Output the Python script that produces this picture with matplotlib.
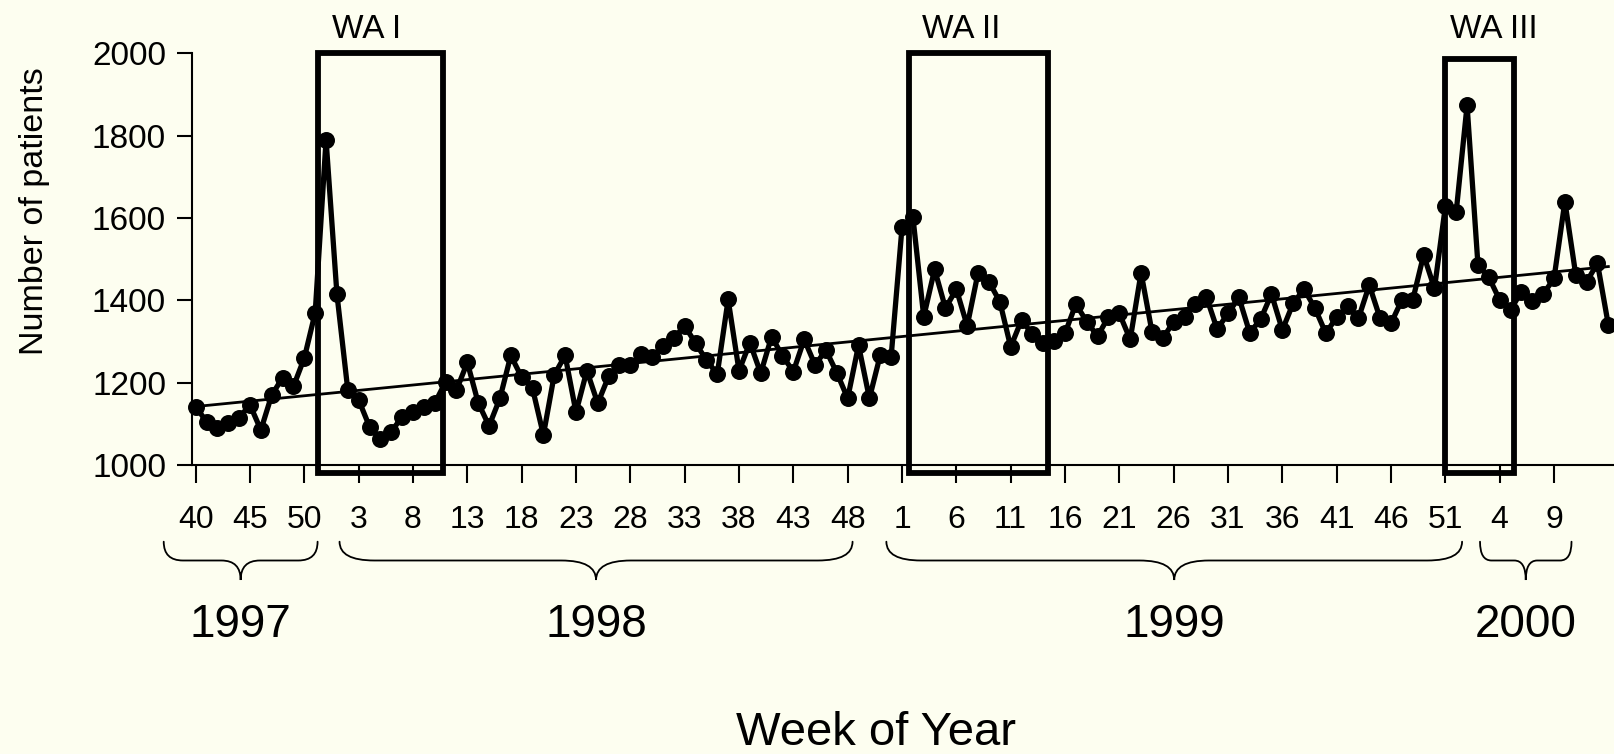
import matplotlib
matplotlib.use("Agg")
import matplotlib.pyplot as plt
from matplotlib.patches import Rectangle, PathPatch
from matplotlib.path import Path
from matplotlib.transforms import blended_transform_factory
import numpy as np

plt.rcParams['font.family'] = ['Liberation Sans', 'DejaVu Sans']

# Weekly patient counts, week 40 of 1997 onwards
patients = [
    1142, 1105, 1089, 1101, 1115, 1146, 1085, 1170, 1212, 1191,
    1260, 1370, 1790, 1415, 1182, 1158, 1093, 1062, 1081, 1117,
    1129, 1142, 1150, 1202, 1182, 1249, 1151, 1095, 1162, 1266,
    1213, 1186, 1073, 1219, 1266, 1128, 1229, 1150, 1215, 1243,
    1243, 1270, 1262, 1290, 1308, 1338, 1296, 1255, 1221, 1402,
    1229, 1297, 1223, 1312, 1265, 1227, 1305, 1243, 1279, 1224,
    1162, 1291, 1162, 1267, 1263, 1577, 1603, 1360, 1475, 1381,
    1427, 1338, 1467, 1445, 1397, 1287, 1352, 1318, 1296, 1300,
    1320, 1391, 1348, 1313, 1360, 1368, 1305, 1467, 1324, 1308,
    1348, 1360, 1391, 1409, 1330, 1368, 1407, 1321, 1354, 1415,
    1328, 1393, 1427, 1381, 1320, 1359, 1385, 1356, 1437, 1356,
    1344, 1401, 1401, 1510, 1429, 1628, 1615, 1874, 1486, 1456,
    1401, 1377, 1421, 1399, 1415, 1453, 1640, 1462, 1445, 1490,
    1340,
]

# Linear trend, value at first and last week
trend_ends = [1142, 1482]

# Week-of-year tick labels (every 5th week)
week_labels = ['40', '45', '50',
               '3', '8', '13', '18', '23', '28', '33', '38', '43', '48',
               '1', '6', '11', '16', '21', '26', '31', '36', '41', '46', '51',
               '4', '9']
tick_index = list(range(0, 5 * len(week_labels), 5))

# Calendar years and the week ranges their braces cover
years = ['1997', '1998', '1999', '2000']
year_spans = [(-2.94, 11.22), (13.24, 60.45), (63.56, 116.54), (118.19, 126.61)]

# Outbreak periods
episodes = ['WA I', 'WA II', 'WA III']
episode_spans = [(11.25, 22.8), (65.64, 78.45), (114.93, 121.29)]
episode_tops = [2000, 2000, 1985]
episode_label_x = [15.71, 70.47, 119.48]

BG = '#FDFEF0'
W, H = 1614, 754

fig = plt.figure(figsize=(W / 100, H / 100), dpi=100, facecolor=BG)
ax = fig.add_axes([192.4 / W, (H - 465) / H, (W - 192.4) / W, 411.7 / H])
ax.set_facecolor('none')

x = np.arange(len(patients))
ax.plot(x, patients, '-o', color='black', lw=3.8, ms=11.2,
        clip_on=False, zorder=3)
ax.plot([x[0], x[-1]], trend_ends, color='black', lw=2.0, zorder=4)

for (x0, x1), top in zip(episode_spans, episode_tops):
    ax.add_patch(Rectangle((x0, 980), x1 - x0, top - 980, fill=False,
                           lw=4.2, ec='black', clip_on=False, zorder=5,
                           joinstyle='miter'))

ax.set_xlim(-0.3, 130.52)
ax.set_ylim(1000, 2000)

for s in ('top', 'right'):
    ax.spines[s].set_visible(False)
for s in ('left', 'bottom'):
    ax.spines[s].set_linewidth(1.5)

ax.set_xticks(tick_index)
ax.set_xticklabels(week_labels)
ax.set_yticks(range(1000, 2001, 200))
ax.tick_params(axis='x', direction='out', length=13, width=1.5,
               labelsize=23, pad=16)
ax.tick_params(axis='y', direction='out', length=11, width=1.5,
               labelsize=24, pad=8)

# Text and braces placed with x in week units, y in figure fraction
bt = blended_transform_factory(ax.transData, fig.transFigure)


def fy(p):
    return 1 - p / H


for label, lx in zip(episodes, episode_label_x):
    fig.text(lx, fy(38), label, transform=bt, ha='center', va='baseline',
             fontsize=24)

yt, yh, yb = fy(541.7), fy(560.5), fy(580)
for year, (x0, x1) in zip(years, year_spans):
    xm = (x0 + x1) / 2
    c = min(3.2, (x1 - x0) / 8)
    verts = [(x0, yt), (x0, yh), (x0 + c, yh),
             (xm - c, yh),
             (xm, yh), (xm, yb),
             (xm, yh), (xm + c, yh),
             (x1 - c, yh),
             (x1, yh), (x1, yt)]
    codes = [Path.MOVETO, Path.CURVE3, Path.CURVE3,
             Path.LINETO,
             Path.CURVE3, Path.CURVE3,
             Path.CURVE3, Path.CURVE3,
             Path.LINETO,
             Path.CURVE3, Path.CURVE3]
    fig.add_artist(PathPatch(Path(verts, codes), transform=bt, fill=False,
                             lw=1.3, ec='black', capstyle='round'))
    fig.text(xm, fy(637), year, transform=bt, ha='center', va='baseline',
             fontsize=33)

fig.text(876 / W, fy(745), 'Week of Year', ha='center', va='baseline',
         fontsize=34)
fig.text(35 / W, fy(211), 'Number of patients', rotation=90,
         ha='center', va='center', fontsize=24.5)

fig.savefig('out.png', dpi=100, facecolor=BG)
